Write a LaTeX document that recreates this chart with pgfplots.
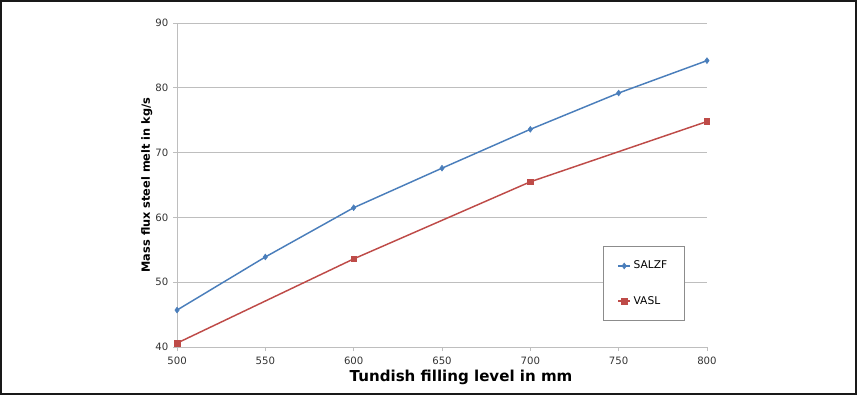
\documentclass[border=0pt]{standalone}
\usepackage{pgfplots}
\pgfplotsset{compat=1.18}
\usepackage{fontspec}
\setmainfont{DejaVu Sans}
\definecolor{sblue}{RGB}{74,126,187}
\definecolor{sred}{RGB}{190,75,72}
\definecolor{gridgray}{RGB}{190,190,190}
\begin{document}
\begin{tikzpicture}[x=0.75pt,y=0.75pt]
\draw[line width=1.6pt,color=black!90] (1,1) rectangle (856,394);
\begin{axis}[
  at={(132.75pt,36pt)}, anchor=origin,
  scale only axis, width=397.5pt, height=243pt,
  xmin=500, xmax=800, ymin=40, ymax=90,
  xtick={500,550,...,800}, ytick={40,50,...,90},
  axis x line*=bottom, axis y line*=left,
  x axis line style={draw=gridgray,-}, y axis line style={draw=gridgray,-},
  ymajorgrids, grid style={draw=gridgray, line width=0.6pt},
  tick style={draw=gridgray, line width=0.6pt}, tick align=outside, major tick length=3pt,
  tick label style={font=\fontsize{7.6}{9}\selectfont, text=black!80},
  /pgf/number format/assume math mode=true,
  xticklabel style={yshift=-1pt},
  xlabel={Tundish filling level in mm},
  ylabel={Mass flux steel melt in kg/s},
  xlabel style={font=\fontsize{11.3}{13}\selectfont\bfseries, at={(axis description cs:0.536,-0.093)}, anchor=center},
  ylabel style={font=\fontsize{8.5}{10}\selectfont\bfseries, at={(axis description cs:-0.057,0.5)}, anchor=center},
  legend style={at={(axis description cs:0.804,0.312)}, anchor=north west, draw=black!45, line width=0.6pt,
    font=\fontsize{8}{9}\selectfont, row sep=15pt, inner xsep=10.5pt, inner ysep=9pt, fill=white},
  legend cell align=left,
  legend image code/.code={\draw[mark repeat=2,mark phase=2] plot coordinates {(0pt,0pt)(4.5pt,0pt)(9pt,0pt)};},
]
\addplot[color=sblue, line width=1.1pt, mark=diamond*, mark size=2.2pt, mark options={fill=sblue, line width=0.4pt}]
  coordinates {(500,45.7) (550,53.9) (600,61.5) (650,67.6) (700,73.6) (750,79.2) (800,84.2)};
\addlegendentry{SALZF}
\addplot[color=sred, line width=1.1pt, mark=square*, mark size=2.1pt, mark options={fill=sred, line width=0.4pt}]
  coordinates {(500,40.6) (600,53.6) (700,65.5) (800,74.8)};
\addlegendentry{VASL}
\end{axis}
\end{tikzpicture}
\end{document}
